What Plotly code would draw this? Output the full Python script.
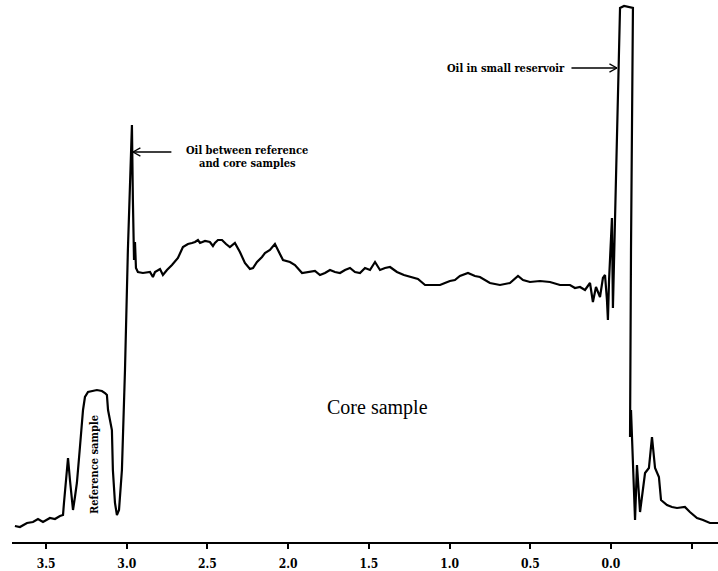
import plotly.graph_objects as go

# chemical shift (ppm) and signal intensity (arbitrary units)
ppm = [3.693, 3.662, 3.618, 3.581, 3.550, 3.519, 3.476, 3.445, 3.414, 3.395, 3.389, 3.364, 3.352, 3.333,
       3.321, 3.309, 3.290, 3.271, 3.259, 3.240, 3.185, 3.154, 3.135, 3.123, 3.116, 3.092, 3.086, 3.073,
       3.061, 3.048, 3.030, 3.011, 2.993, 2.968, 2.962, 2.955, 2.949, 2.943, 2.931, 2.900, 2.856, 2.838,
       2.825, 2.794, 2.776, 2.751, 2.720, 2.683, 2.652, 2.621, 2.596, 2.577, 2.559, 2.546, 2.515, 2.485,
       2.466, 2.454, 2.435, 2.410, 2.385, 2.361, 2.330, 2.299, 2.268, 2.237, 2.218, 2.193, 2.162, 2.144,
       2.113, 2.082, 2.051, 2.032, 1.989, 1.958, 1.914, 1.877, 1.834, 1.803, 1.772, 1.741, 1.710, 1.679,
       1.648, 1.617, 1.586, 1.555, 1.524, 1.493, 1.462, 1.431, 1.400, 1.369, 1.326, 1.283, 1.245, 1.196,
       1.152, 1.109, 1.059, 1.029, 0.998, 0.967, 0.936, 0.886, 0.843, 0.812, 0.750, 0.688, 0.626, 0.576,
       0.545, 0.502, 0.440, 0.378, 0.316, 0.254, 0.223, 0.192, 0.161, 0.130, 0.112, 0.093, 0.068, 0.050,
       0.037, 0.025, 0.019, 0.012, 0.000, -0.006, -0.012, -0.019, -0.031, -0.043, -0.056, -0.081, -0.105,
       -0.136, -0.124, -0.118, -0.124, -0.130, -0.143, -0.149, -0.161, -0.180, -0.211, -0.235, -0.254,
       -0.273, -0.297, -0.310, -0.347, -0.378, -0.409, -0.458, -0.489, -0.533, -0.570, -0.613, -0.663]

intensity = [16, 15, 19, 20, 23, 20, 24, 23, 26, 27, 39, 84, 62, 32,
             45, 59, 95, 132, 145, 150, 152, 151, 149, 147, 132, 112, 72, 39,
             27, 32, 72, 172, 292, 417, 342, 282, 300, 274, 270, 269, 270, 265,
             270, 273, 267, 272, 277, 284, 295, 298, 299, 300, 302, 299, 301, 300,
             296, 299, 302, 302, 298, 295, 299, 290, 279, 273, 274, 280, 285, 289,
             292, 298, 288, 282, 280, 277, 269, 270, 271, 267, 269, 272, 270, 269,
             272, 274, 270, 269, 274, 272, 280, 272, 274, 275, 270, 267, 265, 263,
             257, 257, 257, 259, 261, 262, 266, 269, 266, 265, 259, 257, 259, 266,
             262, 260, 261, 260, 257, 257, 254, 255, 252, 259, 240, 255, 245, 264,
             267, 242, 222, 262, 312, 324, 234, 282, 362, 442, 534, 536, 535,
             534, 292, 105, 132, 107, 62, 22, 77, 30, 69, 74, 105,
             74, 65, 42, 37, 35, 34, 35, 30, 24, 22, 19, 19]

tick_vals = [3.5, 3.0, 2.5, 2.0, 1.5, 1.0, 0.5, 0.0, -0.5]
tick_text = ["3.5", "3.0", "2.5", "2.0", "1.5", "1.0", "0.5", "0.0", ""]

fig = go.Figure()
fig.add_trace(go.Scatter(x=ppm, y=intensity, mode="lines",
                         line=dict(color="black", width=2.2), hoverinfo="skip",
                         showlegend=False))

small_font = dict(family="DejaVu Serif Condensed, DejaVu Serif", size=11, color="black", weight="bold")

ann = []
# arrow to the oil peak between reference and core samples
ann.append(dict(x=2.962, y=390, ax=40, ay=0, xref="x", yref="y", text="", showarrow=True,
                arrowhead=0, arrowwidth=1.3, arrowcolor="black", standoff=0))
for dy in (-5, 5):
    ann.append(dict(x=2.962, y=390, ax=9, ay=dy, xref="x", yref="y", text="", showarrow=True,
                    arrowhead=0, arrowwidth=1.3, arrowcolor="black", standoff=0))
ann.append(dict(x=2.255, y=392, xref="x", yref="y", text="Oil between reference",
                showarrow=False, font=small_font, xanchor="center", yanchor="middle"))
ann.append(dict(x=2.255, y=379, xref="x", yref="y", text="and core samples",
                showarrow=False, font=small_font, xanchor="center", yanchor="middle"))
# arrow to the oil in small reservoir peak
ann.append(dict(x=-0.037, y=474, ax=-47, ay=0, xref="x", yref="y", text="", showarrow=True,
                arrowhead=0, arrowwidth=1.3, arrowcolor="black", standoff=0))
for dy in (-5, 5):
    ann.append(dict(x=-0.037, y=474, ax=-9, ay=dy, xref="x", yref="y", text="", showarrow=True,
                    arrowhead=0, arrowwidth=1.3, arrowcolor="black", standoff=0))
ann.append(dict(x=0.273, y=474, xref="x", yref="y", text="Oil in small reservoir",
                showarrow=False, font=small_font, xanchor="right", yanchor="middle"))
ann.append(dict(x=1.444, y=135, xref="x", yref="y", text="Core sample", showarrow=False,
                font=dict(family="Liberation Serif", size=20, color="black"),
                xanchor="center", yanchor="middle"))
ann.append(dict(x=3.203, y=77, xref="x", yref="y", text="Reference sample", showarrow=False,
                textangle=-90, font=small_font, xanchor="center", yanchor="middle"))

fig.update_layout(
    width=718, height=571,
    margin=dict(l=12, r=0, t=0, b=29),
    paper_bgcolor="white", plot_bgcolor="white",
    annotations=ann,
    xaxis=dict(range=[3.711, -0.663], showgrid=False, zeroline=False,
               showline=True, linecolor="black", linewidth=2,
               ticks="outside", ticklen=5, tickwidth=1.5, tickcolor="black",
               tickvals=tick_vals, ticktext=tick_text, ticklabelstandoff=5,
               tickfont=dict(family="DejaVu Serif Condensed, DejaVu Serif", size=12,
                             color="black", weight="bold")),
    yaxis=dict(range=[0, 542], visible=False, showgrid=False, zeroline=False),
)

fig.write_html("out.html")
